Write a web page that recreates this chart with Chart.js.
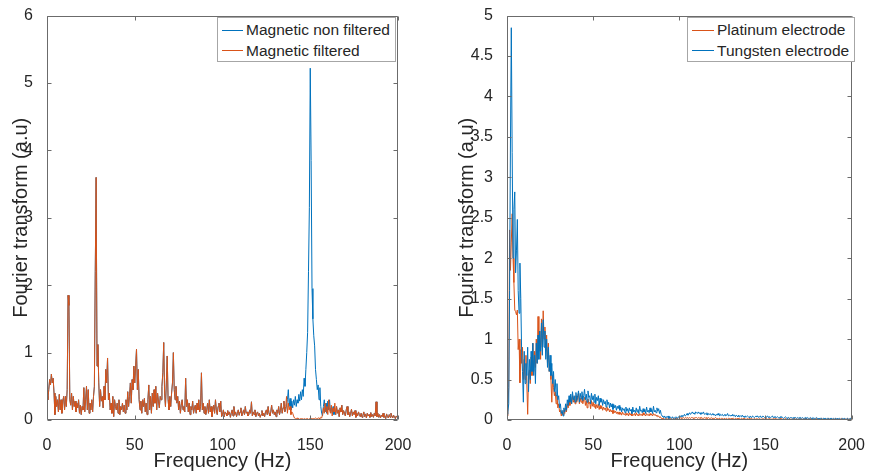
<!DOCTYPE html>
<html>
<head>
<meta charset="utf-8">
<script src="https://cdn.jsdelivr.net/npm/chart.js@4.4.1/dist/chart.umd.min.js"></script>
<style>
  html, body { margin: 0; padding: 0; background: #fff; }
  body { width: 873px; height: 475px; position: relative; overflow: hidden;
         font-family: "Liberation Sans", Arial, Helvetica, sans-serif; color: #262626; }
  canvas { position: absolute; top: 0; display: block; }
  .legend { position: absolute; box-sizing: border-box; background: #fff;
            border: 1px solid #a6a6a6; padding-top: 2px; }
  .legend .row { height: 20.5px; display: flex; align-items: center; white-space: nowrap;
                 font-size: 15.5px; color: #262626; }
  .legend .swatch { height: 1px; margin-right: 3px; flex: none; }
</style>
</head>
<body>
<canvas id="leftChart" width="420" height="475" style="left:0px"></canvas>
<canvas id="rightChart" width="433" height="475" style="left:440px"></canvas>
<div class="legend" id="leftLegend" style="left:217px;top:17px;width:179px;height:45px"></div>
<div class="legend" id="rightLegend" style="left:687px;top:17px;width:168px;height:45px"></div>
<script>
// Spectra sampled every 0.5 Hz from 0 to 200 Hz (401 samples per series).
const FREQ_STEP = 0.5;
const X_TICKS = [0, 50, 100, 150, 200];
const X_TICK_LABELS = ['0', '50', '100', '150', '200'];
const LEFT_Y_TICKS = [0, 1, 2, 3, 4, 5, 6];
const LEFT_Y_TICK_LABELS = ['0', '1', '2', '3', '4', '5', '6'];
const RIGHT_Y_TICKS = [0, 0.5, 1, 1.5, 2, 2.5, 3, 3.5, 4, 4.5, 5];
const RIGHT_Y_TICK_LABELS = ['0', '0.5', '1', '1.5', '2', '2.5', '3', '3.5', '4', '4.5', '5'];
const LEFT_LABELS = ['Magnetic non filtered', 'Magnetic filtered'];
const RIGHT_LABELS = ['Platinum electrode', 'Tungsten electrode'];

// Magnetic recording after filtering (notch around 150 Hz)
const magneticFiltered = [
  0.35, 0.3, 0.45, 0.6, 0.52, 0.68, 0.55, 0.62, 0.4, 0.08,
  0.35, 0.2, 0.3, 0.12, 0.38, 0.15, 0.3, 0.1, 0.28, 0.35,
  0.15, 0.35, 0.2, 0.45, 1.85, 1.7, 0.3, 0.22, 0.4, 0.15,
  0.35, 0.2, 0.28, 0.12, 0.25, 0.18, 0.3, 0.1, 0.22, 0.08,
  0.2, 0.15, 0.48, 0.12, 0.3, 0.5, 0.15, 0.45, 0.1, 0.25,
  0.15, 0.3, 0.12, 0.35, 0.5, 2.2, 3.6, 0.8, 1.12, 0.55,
  0.2, 0.45, 0.28, 0.35, 0.18, 0.5, 0.3, 0.75, 0.55, 0.92,
  0.3, 0.4, 0.15, 0.25, 0.1, 0.35, 0.05, 0.3, 0.2, 0.15,
  0.25, 0.1, 0.3, 0.08, 0.2, 0.15, 0.25, 0.12, 0.22, 0.1,
  0.3, 0.15, 0.42, 0.2, 0.35, 0.55, 0.25, 0.6, 0.45, 0.8,
  0.55, 0.8, 1.05, 0.45, 0.75, 0.3, 0.15, 0.28, 0.1, 0.3,
  0.2, 0.32, 0.12, 0.25, 0.08, 0.3, 0.52, 0.15, 0.35, 0.1,
  0.4, 0.2, 0.45, 0.25, 0.5, 0.15, 0.4, 0.28, 0.18, 0.35,
  0.3, 0.5, 0.7, 1.15, 0.4, 0.2, 0.55, 0.95, 0.3, 0.15,
  0.35, 0.2, 0.4, 0.55, 1.0, 0.45, 0.3, 0.5, 0.25, 0.35,
  0.15, 0.28, 0.1, 0.22, 0.3, 0.15, 0.2, 0.12, 0.62, 0.2,
  0.3, 0.12, 0.25, 0.08, 0.2, 0.15, 0.28, 0.1, 0.18, 0.22,
  0.1, 0.25, 0.15, 0.3, 0.12, 0.2, 0.7, 0.15, 0.25, 0.1,
  0.2, 0.08, 0.15, 0.25, 0.1, 0.3, 0.12, 0.2, 0.05, 0.15,
  0.22, 0.1, 0.3, 0.15, 0.08, 0.2, 0.25, 0.12, 0.28, 0.05,
  0.08, 0.15, 0.05, 0.12, 0.1, 0.06, 0.14, 0.08, 0.12, 0.04,
  0.1, 0.15, 0.06, 0.2, 0.08, 0.12, 0.05, 0.1, 0.15, 0.07,
  0.12, 0.18, 0.06, 0.1, 0.15, 0.08, 0.2, 0.1, 0.12, 0.06,
  0.08, 0.15, 0.1, 0.27, 0.06, 0.12, 0.08, 0.15, 0.05, 0.1,
  0.12, 0.06, 0.1, 0.04, 0.08, 0.14, 0.06, 0.1, 0.05, 0.12,
  0.15, 0.08, 0.2, 0.1, 0.06, 0.12, 0.22, 0.1, 0.15, 0.08,
  0.12, 0.05, 0.15, 0.1, 0.2, 0.08, 0.14, 0.25, 0.1, 0.18,
  0.28, 0.12, 0.2, 0.35, 0.1, 0.25, 0.15, 0.2, 0.08, 0.12,
  0.1, 0.06, 0.03, 0.02, 0.02, 0.03, 0.02, 0.02, 0.01, 0.02,
  0.02, 0.02, 0.01, 0.02, 0.02, 0.01, 0.02, 0.02, 0.01, 0.02,
  0.01, 0.02, 0.02, 0.01, 0.02, 0.02, 0.03, 0.02, 0.02, 0.03,
  0.03, 0.02, 0.04, 0.03, 0.08, 0.18, 0.1, 0.25, 0.12, 0.2,
  0.08, 0.3, 0.15, 0.1, 0.22, 0.06, 0.18, 0.12, 0.25, 0.08,
  0.2, 0.1, 0.15, 0.05, 0.18, 0.12, 0.22, 0.08, 0.14, 0.1,
  0.06, 0.15, 0.2, 0.08, 0.12, 0.05, 0.1, 0.16, 0.06, 0.12,
  0.08, 0.14, 0.04, 0.1, 0.06, 0.12, 0.08, 0.05, 0.1, 0.04,
  0.07, 0.12, 0.05, 0.09, 0.03, 0.1, 0.06, 0.08, 0.04, 0.11,
  0.05, 0.08, 0.04, 0.1, 0.06, 0.27, 0.05, 0.1, 0.04, 0.08,
  0.03, 0.07, 0.05, 0.1, 0.04, 0.06, 0.02, 0.09, 0.05, 0.03,
  0.08, 0.04, 0.1, 0.06, 0.03, 0.07, 0.05, 0.02, 0.06, 0.04,
  0.05
];

// Unfiltered recording: identical outside 136-164 Hz, where the 150 Hz line remains
const NON_FILTERED_BAND_START = 136;
const nonFilteredBand = [
  0.15, 0.22, 0.3, 0.45, 0.2, 0.32, 0.15, 0.28, 0.18, 0.3,
  0.22, 0.35, 0.2, 0.3, 0.25, 0.38, 0.28, 0.42, 0.3, 0.45,
  0.35, 0.62, 0.5, 0.75, 1.0, 1.3, 2.2, 3.15, 5.22, 3.85,
  1.95, 1.5, 1.25, 1.1, 0.75, 0.6, 0.45, 0.52, 0.3, 0.48,
  0.2, 0.1, 0.06, 0.2, 0.3, 0.12, 0.25, 0.1, 0.28, 0.15,
  0.3, 0.12, 0.18, 0.1, 0.2, 0.08, 0.12
];

// Electrode comparison
const platinumElectrode = [
  0.05, 0.15, 0.4, 2.35, 1.85, 2.2, 2.55, 2.0, 1.7, 1.36,
  1.34, 1.3, 1.36, 0.87, 1.0, 0.46, 0.87, 0.7, 0.9, 0.5,
  0.75, 0.5, 0.8, 0.45, 0.07, 0.55, 0.62, 0.45, 0.78, 0.55,
  0.95, 0.6, 0.85, 0.65, 1.0, 0.7, 1.28, 0.85, 1.1, 0.75,
  1.25, 0.9, 1.35, 1.0, 1.15, 0.85, 1.05, 0.7, 0.95, 0.6,
  0.7, 0.5, 0.22, 0.55, 0.4, 0.3, 0.35, 0.2, 0.3, 0.15,
  0.2, 0.1, 0.12, 0.05, 0.1, 0.06, 0.12, 0.08, 0.15, 0.1,
  0.2, 0.15, 0.25, 0.18, 0.28, 0.2, 0.3, 0.22, 0.26, 0.2,
  0.3, 0.22, 0.28, 0.33, 0.2, 0.27, 0.22, 0.3, 0.2, 0.25,
  0.28, 0.18, 0.24, 0.15, 0.26, 0.2, 0.22, 0.14, 0.24, 0.17,
  0.22, 0.16, 0.2, 0.14, 0.19, 0.15, 0.2, 0.13, 0.18, 0.14,
  0.17, 0.12, 0.16, 0.13, 0.15, 0.11, 0.16, 0.12, 0.14, 0.1,
  0.13, 0.1, 0.12, 0.08, 0.12, 0.09, 0.11, 0.08, 0.1, 0.07,
  0.1, 0.07, 0.09, 0.06, 0.1, 0.07, 0.08, 0.06, 0.09, 0.06,
  0.08, 0.05, 0.09, 0.06, 0.08, 0.05, 0.07, 0.06, 0.08, 0.05,
  0.09, 0.06, 0.07, 0.05, 0.08, 0.06, 0.07, 0.05, 0.09, 0.06,
  0.07, 0.05, 0.08, 0.06, 0.07, 0.05, 0.08, 0.06, 0.07, 0.05,
  0.08, 0.06, 0.07, 0.05, 0.06, 0.04, 0.05, 0.03, 0.04, 0.02,
  0.02, 0.01, 0.02, 0.01, 0.01, 0.02, 0.01, 0.02, 0.01, 0.01,
  0.02, 0.01, 0.01, 0.02, 0.01, 0.02, 0.01, 0.02, 0.02, 0.01,
  0.02, 0.03, 0.02, 0.03, 0.02, 0.03, 0.02, 0.03, 0.02, 0.03,
  0.03, 0.02, 0.03, 0.02, 0.03, 0.03, 0.02, 0.03, 0.02, 0.03,
  0.03, 0.02, 0.03, 0.02, 0.03, 0.02, 0.03, 0.02, 0.02, 0.03,
  0.02, 0.03, 0.02, 0.02, 0.03, 0.02, 0.02, 0.03, 0.02, 0.02,
  0.02, 0.02, 0.03, 0.02, 0.02, 0.01, 0.02, 0.02, 0.01, 0.02,
  0.02, 0.01, 0.02, 0.02, 0.01, 0.02, 0.01, 0.02, 0.02, 0.01,
  0.02, 0.01, 0.02, 0.02, 0.01, 0.02, 0.01, 0.02, 0.01, 0.02,
  0.02, 0.01, 0.02, 0.01, 0.02, 0.01, 0.02, 0.01, 0.01, 0.02,
  0.01, 0.02, 0.01, 0.01, 0.02, 0.01, 0.01, 0.02, 0.01, 0.01,
  0.02, 0.01, 0.01, 0.02, 0.01, 0.01, 0.01, 0.02, 0.01, 0.01,
  0.01, 0.02, 0.01, 0.01, 0.01, 0.02, 0.01, 0.01, 0.01, 0.02,
  0.01, 0.01, 0.02, 0.01, 0.01, 0.01, 0.01, 0.02, 0.01, 0.01,
  0.01, 0.01, 0.01, 0.02, 0.01, 0.01, 0.01, 0.01, 0.02, 0.01,
  0.01, 0.01, 0.01, 0.01, 0.02, 0.01, 0.01, 0.01, 0.01, 0.01,
  0.02, 0.01, 0.01, 0.01, 0.01, 0.01, 0.02, 0.01, 0.01, 0.01,
  0.01, 0.01, 0.02, 0.01, 0.01, 0.01, 0.01, 0.01, 0.01, 0.02,
  0.01, 0.01, 0.01, 0.01, 0.01, 0.02, 0.01, 0.01, 0.01, 0.01,
  0.01, 0.01, 0.01, 0.02, 0.01, 0.01, 0.01, 0.01, 0.01, 0.01,
  0.01, 0.02, 0.01, 0.01, 0.01, 0.01, 0.01, 0.01, 0.02, 0.01,
  0.01, 0.01, 0.01, 0.01, 0.01, 0.02, 0.01, 0.01, 0.01, 0.01,
  0.01
];

const tungstenElectrode = [
  0.07, 0.1, 0.2, 1.6, 3.4, 4.85, 3.31, 2.0, 2.6, 2.82,
  1.82, 2.1, 2.48, 1.6, 1.32, 1.94, 1.5, 0.83, 0.6, 0.22,
  0.85, 0.45, 0.7, 0.55, 0.9, 0.35, 0.75, 0.5, 0.85, 0.6,
  0.95, 0.55, 0.8, 0.45, 0.95, 0.7, 1.05, 0.75, 1.1, 0.85,
  1.2, 0.8, 1.24, 0.9, 1.1, 0.75, 1.0, 0.65, 0.9, 0.6,
  0.8, 0.55, 0.7, 0.45, 0.6, 0.35, 0.5, 0.3, 0.45, 0.25,
  0.3, 0.15, 0.2, 0.08, 0.12, 0.05, 0.15, 0.1, 0.2, 0.12,
  0.25, 0.18, 0.3, 0.22, 0.32, 0.2, 0.35, 0.25, 0.3, 0.22,
  0.34, 0.24, 0.3, 0.36, 0.22, 0.33, 0.26, 0.35, 0.24, 0.3,
  0.38, 0.25, 0.32, 0.22, 0.36, 0.28, 0.3, 0.2, 0.33, 0.25,
  0.3, 0.22, 0.32, 0.2, 0.28, 0.24, 0.3, 0.18, 0.27, 0.22,
  0.26, 0.18, 0.25, 0.2, 0.23, 0.16, 0.25, 0.19, 0.22, 0.15,
  0.21, 0.16, 0.2, 0.13, 0.19, 0.15, 0.18, 0.12, 0.17, 0.14,
  0.18, 0.12, 0.16, 0.1, 0.15, 0.12, 0.14, 0.09, 0.16, 0.11,
  0.14, 0.09, 0.15, 0.11, 0.13, 0.08, 0.16, 0.1, 0.12, 0.09,
  0.15, 0.1, 0.13, 0.08, 0.17, 0.11, 0.12, 0.09, 0.14, 0.1,
  0.13, 0.08, 0.16, 0.1, 0.12, 0.09, 0.15, 0.1, 0.13, 0.08,
  0.17, 0.1, 0.12, 0.09, 0.15, 0.11, 0.14, 0.08, 0.12, 0.07,
  0.05, 0.04, 0.03, 0.05, 0.02, 0.04, 0.03, 0.05, 0.02, 0.04,
  0.03, 0.02, 0.04, 0.02, 0.03, 0.02, 0.04, 0.03, 0.02, 0.04,
  0.03, 0.05, 0.04, 0.06, 0.04, 0.05, 0.07, 0.05, 0.06, 0.08,
  0.06, 0.07, 0.09, 0.07, 0.08, 0.1, 0.08, 0.09, 0.07, 0.1,
  0.09, 0.08, 0.1, 0.08, 0.09, 0.07, 0.09, 0.08, 0.1, 0.07,
  0.08, 0.07, 0.09, 0.06, 0.08, 0.07, 0.08, 0.06, 0.07, 0.08,
  0.06, 0.07, 0.05, 0.07, 0.06, 0.08, 0.06, 0.05, 0.07, 0.06,
  0.07, 0.05, 0.06, 0.07, 0.05, 0.06, 0.08, 0.05, 0.06, 0.05,
  0.06, 0.05, 0.07, 0.05, 0.06, 0.04, 0.06, 0.05, 0.04, 0.06,
  0.04, 0.05, 0.04, 0.06, 0.04, 0.05, 0.03, 0.05, 0.04, 0.05,
  0.04, 0.03, 0.05, 0.04, 0.03, 0.05, 0.04, 0.03, 0.04, 0.05,
  0.04, 0.05, 0.03, 0.04, 0.05, 0.03, 0.04, 0.05, 0.04, 0.03,
  0.04, 0.03, 0.05, 0.04, 0.03, 0.04, 0.03, 0.04, 0.05, 0.03,
  0.04, 0.03, 0.04, 0.03, 0.04, 0.03, 0.02, 0.04, 0.03, 0.04,
  0.03, 0.02, 0.03, 0.04, 0.03, 0.02, 0.03, 0.03, 0.02, 0.03,
  0.03, 0.02, 0.03, 0.02, 0.03, 0.03, 0.02, 0.03, 0.02, 0.03,
  0.02, 0.03, 0.02, 0.03, 0.02, 0.02, 0.03, 0.02, 0.02, 0.03,
  0.02, 0.02, 0.03, 0.02, 0.02, 0.03, 0.02, 0.02, 0.02, 0.03,
  0.02, 0.02, 0.01, 0.02, 0.02, 0.02, 0.01, 0.02, 0.02, 0.01,
  0.02, 0.01, 0.02, 0.02, 0.01, 0.02, 0.01, 0.02, 0.01, 0.02,
  0.01, 0.02, 0.01, 0.02, 0.01, 0.01, 0.02, 0.01, 0.01, 0.02,
  0.01, 0.01, 0.02, 0.01, 0.01, 0.02, 0.01, 0.01, 0.01, 0.02,
  0.01
];

const BLUE = '#0072BD';
const ORANGE = '#D95319';
const TEXT = '#262626';
const AXIS = '#6b6b6b';
const FONT = '"Liberation Sans", Arial, Helvetica, sans-serif';

const toPoints = vals => vals.map((v, i) => ({ x: i * FREQ_STEP, y: v }));

const bandOffset = NON_FILTERED_BAND_START / FREQ_STEP;
const magneticNonFiltered = magneticFiltered.map((v, i) => {
  const k = i - bandOffset;
  return (k >= 0 && k < nonFilteredBand.length) ? nonFilteredBand[k] : v;
});

// Boxed axes with inward tick marks on all four sides
const boxedAxes = {
  id: 'boxedAxes',
  afterDatasetsDraw(chart) {
    const { ctx, chartArea: a, scales: { x, y } } = chart;
    const L = Math.round(a.left) + 0.5, R = Math.round(a.right) - 0.5;
    const T = Math.round(a.top) + 0.5, B = Math.round(a.bottom) - 0.5;
    const len = 4;
    ctx.save();
    ctx.strokeStyle = AXIS;
    ctx.lineWidth = 1;
    ctx.beginPath();
    ctx.rect(L, T, R - L, B - T);
    x.ticks.forEach(t => {
      const px = Math.round(x.getPixelForValue(t.value)) + 0.5;
      ctx.moveTo(px, B); ctx.lineTo(px, B - len);
      ctx.moveTo(px, T); ctx.lineTo(px, T + len);
    });
    y.ticks.forEach(t => {
      const py = Math.round(y.getPixelForValue(t.value)) + 0.5;
      ctx.moveTo(L, py); ctx.lineTo(L + len, py);
      ctx.moveTo(R, py); ctx.lineTo(R - len, py);
    });
    ctx.stroke();
    ctx.restore();
  }
};

function makeChart(id, datasets, yTicks, yLabels, cfg) {
  return new Chart(document.getElementById(id), {
    type: 'line',
    data: { datasets },
    plugins: [boxedAxes],
    options: {
      responsive: false,
      animation: false,
      devicePixelRatio: 1,
      layout: { padding: { top: 14, right: cfg.padRight, bottom: 0, left: 0 } },
      plugins: { legend: { display: false }, tooltip: { enabled: false } },
      elements: { point: { radius: 0 }, line: { borderWidth: 1, tension: 0 } },
      scales: {
        x: {
          type: 'linear', min: X_TICKS[0], max: X_TICKS[X_TICKS.length - 1],
          afterBuildTicks: s => { s.ticks = X_TICKS.map(v => ({ value: v })); },
          afterFit: s => { s.height = 55; },
          grid: { display: false }, border: { display: false },
          ticks: { autoSkip: false, maxRotation: 0, padding: 8, color: TEXT,
                   font: { family: FONT, size: 16 },
                   callback: (v, i) => X_TICK_LABELS[i] },
          title: { display: true, text: 'Frequency (Hz)', color: TEXT,
                   font: { family: FONT, size: 20 }, padding: { top: 0, bottom: 2 } }
        },
        y: {
          type: 'linear', min: yTicks[0], max: yTicks[yTicks.length - 1],
          afterBuildTicks: s => { s.ticks = yTicks.map(v => ({ value: v })); },
          afterFit: s => { s.width = cfg.yWidth; },
          grid: { display: false }, border: { display: false },
          ticks: { autoSkip: false, padding: 6, color: TEXT,
                   font: { family: FONT, size: 16 },
                   callback: (v, i) => yLabels[i] },
          title: { display: true, text: 'Fourier transform (a.u)', color: TEXT,
                   font: { family: FONT, size: 20 }, padding: { top: cfg.titlePad, bottom: 0 } }
        }
      }
    }
  });
}

function makeLegend(id, entries) {
  const box = document.getElementById(id);
  entries.forEach(e => {
    const row = document.createElement('div');
    row.className = 'row';
    row.style.paddingLeft = e.indent + 'px';
    const sw = document.createElement('span');
    sw.className = 'swatch';
    sw.style.width = e.lineWidth + 'px';
    sw.style.background = e.color;
    const tx = document.createElement('span');
    tx.textContent = e.label;
    row.appendChild(sw);
    row.appendChild(tx);
    box.appendChild(row);
  });
}

makeChart('leftChart', [
  { label: LEFT_LABELS[0], data: toPoints(magneticNonFiltered), borderColor: BLUE, order: 2 },
  { label: LEFT_LABELS[1], data: toPoints(magneticFiltered), borderColor: ORANGE, order: 1 }
], LEFT_Y_TICKS, LEFT_Y_TICK_LABELS, { yWidth: 47, padRight: 22, titlePad: 9 });

makeChart('rightChart', [
  { label: RIGHT_LABELS[0], data: toPoints(platinumElectrode), borderColor: ORANGE, order: 2 },
  { label: RIGHT_LABELS[1], data: toPoints(tungstenElectrode), borderColor: BLUE, order: 1 }
], RIGHT_Y_TICKS, RIGHT_Y_TICK_LABELS, { yWidth: 67, padRight: 16, titlePad: 15 });

makeLegend('leftLegend', [
  { label: LEFT_LABELS[0], color: BLUE, indent: 4, lineWidth: 21 },
  { label: LEFT_LABELS[1], color: ORANGE, indent: 4, lineWidth: 21 }
]);
makeLegend('rightLegend', [
  { label: RIGHT_LABELS[0], color: ORANGE, indent: 4, lineWidth: 22 },
  { label: RIGHT_LABELS[1], color: BLUE, indent: 4, lineWidth: 22 }
]);
</script>
</body>
</html>
